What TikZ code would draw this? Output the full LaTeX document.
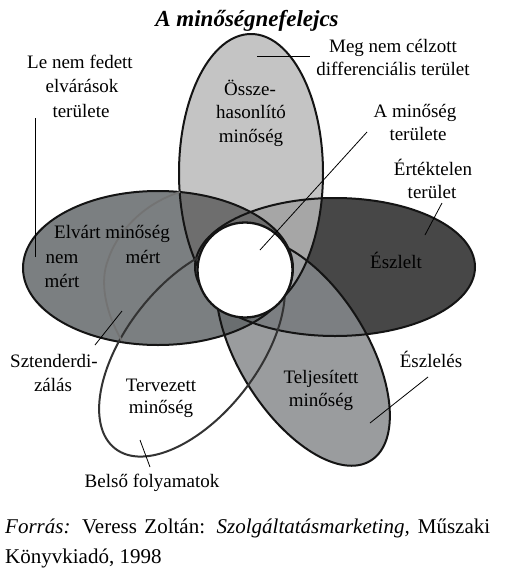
\documentclass[tikz,border=0pt]{standalone}
\usepackage{fontspec}
\setmainfont{Liberation Serif}
\definecolor{cT}{HTML}{C4C4C4}
\definecolor{cR}{HTML}{474747}
\definecolor{cL}{HTML}{7B7F81}
\definecolor{cP}{HTML}{9A9C9E}
\definecolor{cTL}{HTML}{6E6E6E}
\definecolor{cTR}{HTML}{A6A6A6}
\definecolor{cRP}{HTML}{7C7F82}
\definecolor{cTRP}{HTML}{A0A2A4}
\definecolor{cLP}{HTML}{6A6E70}
\begin{document}
\begin{tikzpicture}[x=1pt,y=-1pt,
  lbl/.style={font=\fontsize{19}{23}\selectfont, inner sep=0pt, anchor=base},
  ttl/.style={font=\fontsize{23}{27}\selectfont\bfseries\itshape, inner sep=0pt, anchor=base},
  foot/.style={font=\fontsize{21}{25}\selectfont, inner sep=0pt, anchor=base west},
  outl/.style={draw=black!92, line width=2pt},
  leader/.style={draw=black, line width=0.8pt},
  posP/.style={shift={(303,352)},rotate=-58},
  posV/.style={shift={(192,350)},rotate=52}]
\useasboundingbox (0,0) rectangle (511,573);
\fill[white] (0,0) rectangle (511,573);
% fills
\fill[cT] (251,173) ellipse [x radius=72, y radius=139];
\fill[cR] (335,267) ellipse [x radius=140, y radius=69];
\begin{scope}
  \clip (251,173) ellipse [x radius=72, y radius=139];
  \fill[cTR] (335,267) ellipse [x radius=140, y radius=69];
\end{scope}
\fill[cL] (158,268) ellipse [x radius=135, y radius=77];
\begin{scope}
  \clip (251,173) ellipse [x radius=72, y radius=139];
  \fill[cTL] (158,268) ellipse [x radius=135, y radius=77];
\end{scope}
\fill[cP, posP] (0,0) ellipse [x radius=128, y radius=64];
\begin{scope}
  \clip (335,267) ellipse [x radius=140, y radius=69];
  \fill[cRP, posP] (0,0) ellipse [x radius=128, y radius=64];
\end{scope}
\begin{scope}
  \clip (251,173) ellipse [x radius=72, y radius=139];
  \clip (335,267) ellipse [x radius=140, y radius=69];
  \fill[cTRP, posP] (0,0) ellipse [x radius=128, y radius=64];
\end{scope}
\begin{scope}
  \clip (158,268) ellipse [x radius=135, y radius=77];
  \fill[cLP, posP] (0,0) ellipse [x radius=128, y radius=64];
\end{scope}
% outlines
\draw[outl] (251,173) ellipse [x radius=72, y radius=139];
\draw[outl] (335,267) ellipse [x radius=140, y radius=69];
\draw[outl] (158,268) ellipse [x radius=135, y radius=77];
\draw[outl, posP] (0,0) ellipse [x radius=128, y radius=64];
\draw[line width=2pt, draw=black!80, posV] (0,0) ellipse [x radius=125, y radius=66];
\draw[line width=1.8pt, draw=black!55] (122,341) .. controls (104,310) and (100,280) .. (108,260) .. controls (116,235) and (140,205) .. (180,192);
% centre
\node[circle, draw=black!92, line width=2.3pt, fill=white, minimum size=95pt, inner sep=0pt] (kozep) at (245,270) {};
% leader ends
\coordinate (m1) at (257,56); \coordinate (m2) at (310,56);
\coordinate (l1) at (35.5,118); \coordinate (l2) at (35.5,257);
\coordinate (a1) at (367,132); \coordinate (a2) at (260,250);
\coordinate (e1) at (442,203); \coordinate (e2) at (425,235);
\coordinate (s1) at (95,345); \coordinate (s2) at (122,311);
\coordinate (z1) at (428,377); \coordinate (z2) at (370,423);
\coordinate (b1) at (150,467); \coordinate (b2) at (140,440);
\draw[leader] (m1) -- (m2);
\draw[leader] (l1) -- (l2);
\draw[leader] (a1) -- (a2);
\draw[leader] (e1) -- (e2);
\draw[leader] (s1) -- (s2);
\draw[leader] (z1) -- (z2);
\draw[leader] (b1) -- (b2);
% texts
\node[ttl] (title) at (247,26) {A minőségnefelejcs};
\node[lbl] (meg1) at (393,52) {Meg nem célzott};
\node[lbl] (meg2) at (393,75) {differenciális terület};
\node[lbl] (le1) at (80,68) {Le nem fedett};
\node[lbl] (le2) at (82,92) {elvárások};
\node[lbl] (le3) at (81,117) {területe};
\node[lbl] (ossz1) at (250,95) {Össze-};
\node[lbl] (ossz2) at (251,118) {hasonlító};
\node[lbl] (ossz3) at (251,142) {minőség};
\node[lbl] (am1) at (415,117) {A minőség};
\node[lbl] (am2) at (418,140) {területe};
\node[lbl] (ert1) at (433,175) {Értéktelen};
\node[lbl] (ert2) at (432,198) {terület};
\node[lbl] (elv) at (112,238) {Elvárt minőség};
\node[lbl] (nem) at (62,263) {nem};
\node[lbl] (mertA) at (62,287) {mért};
\node[lbl] (mertB) at (143,263) {mért};
\node[lbl] (eszl) at (396,268) {Észlelt};
\node[lbl] (szt1) at (54,367) {Sztenderdi-};
\node[lbl] (szt2) at (53,391) {zálás};
\node[lbl] (terv1) at (161,391) {Tervezett};
\node[lbl] (terv2) at (161,413) {minőség};
\node[lbl] (telj1) at (321,383) {Teljesített};
\node[lbl] (telj2) at (321,406) {minőség};
\node[lbl] (eszls) at (431,367) {Észlelés};
\node[lbl] (belso) at (152,487) {Belső folyamatok};
\node[foot] (forras) at (5,533) {\makebox[485pt][s]{\textit{Forrás:} Veress Zoltán: \textit{Szolgáltatásmarketing,} Műszaki}};
\node[foot] (kiado) at (5,563) {Könyvkiadó, 1998};
\end{tikzpicture}
\end{document}
